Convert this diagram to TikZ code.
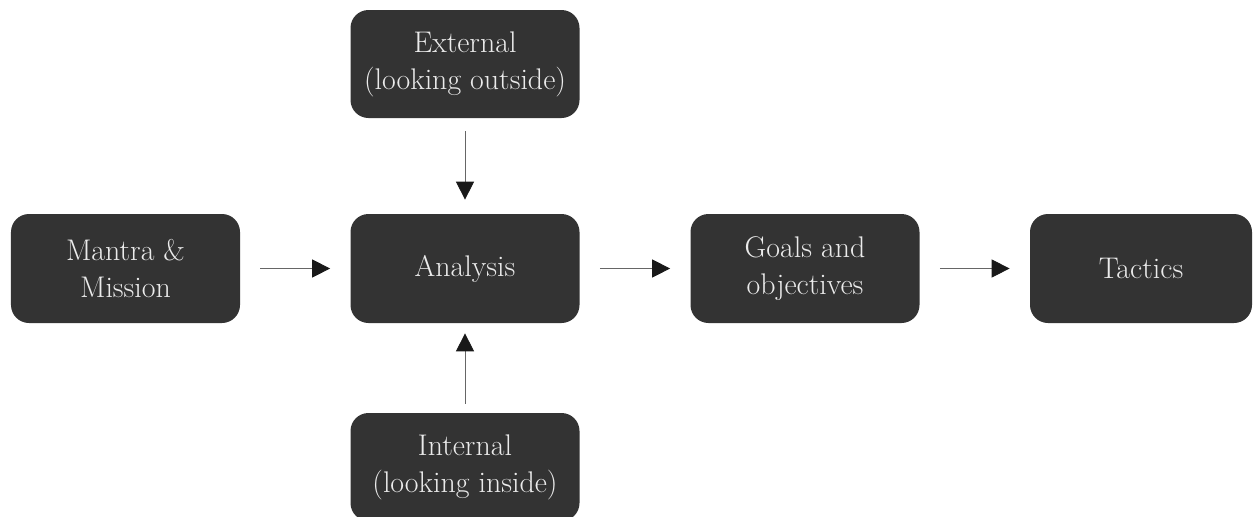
\documentclass[tikz,border=0pt]{standalone}
\usetikzlibrary{arrows.meta,positioning}
\begin{document}
\begin{tikzpicture}[
every node/.style={rectangle,rounded corners=0.36cm,fill=black!80,text=black!8,
minimum width=4.58cm,minimum height=2.18cm,align=center,
font=\fontsize{17}{21}\selectfont},
link/.style={-{Triangle[length=0.36cm,width=0.36cm,color=black!90]},black!60,line width=0.5pt}]
\useasboundingbox (0,0) rectangle (25.08,10.32);
\node (MM) at (2.51,4.95) {Mantra \&\\Mission};
\node (AN) at (9.3,4.95) {Analysis};
\node (GO) at (16.1,4.95) {Goals and\\objectives};
\node[minimum width=4.44cm] (TA) at (22.82,4.95) {Tactics};
\node[minimum height=2.16cm] (EX) at (9.3,9.04) {External\\(looking outside)};
\node[minimum height=2.16cm] (IN) at (9.3,0.98) {Internal\\(looking inside)};
\draw[link,shorten <=0.4cm,shorten >=0.4cm] (MM)--(AN);
\draw[link,shorten <=0.4cm,shorten >=0.4cm] (AN)--(GO);
\draw[link,shorten <=0.4cm,shorten >=0.4cm] (GO)--(TA);
\draw[link,shorten <=0.26cm,shorten >=0.28cm] (EX)--(AN);
\draw[link,shorten <=0.18cm,shorten >=0.2cm] (IN)--(AN);
\end{tikzpicture}
\end{document}
